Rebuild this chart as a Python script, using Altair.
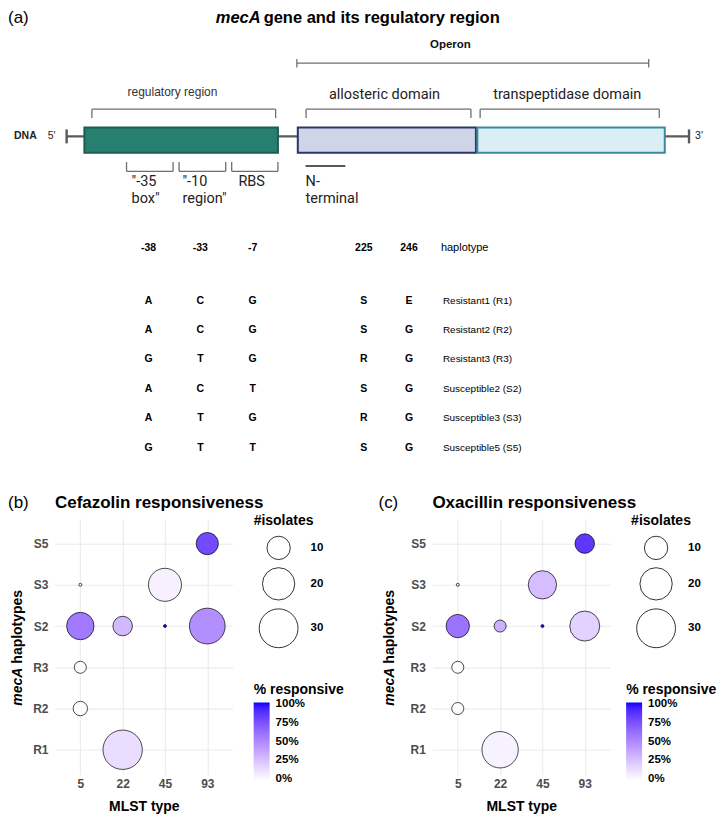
import altair as alt
import pandas as pd

# ---------------- data: panel (a) haplotype table ----------------
snp_positions = ["-38", "-33", "-7", "225", "246"]
haplotype_labels = ["Resistant1 (R1)", "Resistant2 (R2)", "Resistant3 (R3)",
                    "Susceptible2 (S2)", "Susceptible3 (S3)", "Susceptible5 (S5)"]
haplotype_alleles = [
    ["A", "C", "G", "S", "E"],
    ["A", "C", "G", "S", "G"],
    ["G", "T", "G", "R", "G"],
    ["A", "C", "T", "S", "G"],
    ["A", "T", "G", "R", "G"],
    ["G", "T", "T", "S", "G"],
]

# ---------------- data: panels (b) and (c) ----------------
mlst_types = ["5", "22", "45", "93"]
haplotype_codes = ["S5", "S3", "S2", "R3", "R2", "R1"]
bubble_haplotype = ["S5", "S3", "S3", "S2", "S2", "S2", "S2", "R3", "R2", "R1"]
bubble_mlst = ["93", "5", "45", "5", "22", "45", "93", "5", "5", "22"]
cefazolin_isolates = [9, 1, 21, 14, 7, 1, 25, 3, 4, 31]
cefazolin_pct = [78, 0, 5, 57, 29, 100, 48, 0, 0, 13]
oxacillin_isolates = [7, 1, 15, 10, 3, 1, 17, 3, 3, 26]
oxacillin_pct = [86, 0, 27, 60, 33, 100, 18, 0, 0, 4]
size_breaks = [10, 20, 30]
pct_breaks = [0, 25, 50, 75, 100]

# ---------------- panel (a) schematic layout (schematic units) ----------------
gene_parts = ["regulatory region", "allosteric domain", "transpeptidase domain"]
part_start = [84.5, 298.2, 478.0]
part_end = [278.3, 476.6, 665.7]
part_top, part_bottom = 126.0, 151.5
part_fill = ["#27806f", "#cfd4e8", "#d9eff5"]
part_stroke = ["#1d5c52", "#2a356b", "#3d8a9c"]
dna_y, dna_left, dna_right = 135.0, 66.7, 690.0
top_brackets = [(92.0, 276.0), (306.5, 471.6), (480.8, 660.2)]
top_bracket_y = (107.7, 116.7)
bottom_brackets = [(126.7, 173.3), (179.3, 226.0), (232.0, 278.3)]
bottom_bracket_y = (170.0, 160.7)
operon_span = (297.3, 649.6)
operon_y = 61.7
nterm_span = (306.0, 345.8)
nterm_y = 164.7
col_x = [148.7, 200.6, 253.0, 364.3, 409.6]
label_x = 443.5
header_y = 247.0
row_y = [299.6, 328.9, 358.0, 387.8, 417.3, 446.6]

F = "Liberation Sans"
XA = alt.Scale(domain=[55, 710], nice=False, zero=False)
YA = alt.Scale(domain=[8, 458], nice=False, zero=False, reverse=True)


def rule_layer(rows, **mark):
    df = pd.DataFrame(rows, columns=["x1", "x2", "y1", "y2"])
    return alt.Chart(df).mark_rule(**mark).encode(
        x=alt.X("x1:Q", scale=XA, axis=None), x2="x2:Q",
        y=alt.Y("y1:Q", scale=YA, axis=None), y2="y2:Q")


def text_layer(rows, **mark):
    df = pd.DataFrame(rows, columns=["label", "x", "y"])
    return alt.Chart(df).mark_text(**mark).encode(
        x=alt.X("x:Q", scale=XA, axis=None),
        y=alt.Y("y:Q", scale=YA, axis=None),
        text="label:N")


# rules
backbone = rule_layer([(dna_left, dna_right, dna_y, dna_y),
                       (dna_left, dna_left, dna_y - 7, dna_y + 7),
                       (dna_right, dna_right, dna_y - 7, dna_y + 7)],
                      color="#5a5a5a", strokeWidth=2.4)
bracket_rows = [(operon_span[0], operon_span[1], operon_y, operon_y),
                (operon_span[0], operon_span[0], operon_y - 4.2, operon_y + 4.3),
                (operon_span[1], operon_span[1], operon_y - 4.2, operon_y + 4.3)]
for a, b in top_brackets:
    y0, y1 = top_bracket_y
    bracket_rows += [(a, b, y0, y0), (a, a, y0, y1), (b, b, y0, y1)]
for a, b in bottom_brackets:
    y0, y1 = bottom_bracket_y
    bracket_rows += [(a, b, y0, y0), (a, a, y0, y1), (b, b, y0, y1)]
brackets = rule_layer(bracket_rows, color="#6e6e6e", strokeWidth=1.3)
nterm = rule_layer([(nterm_span[0], nterm_span[1], nterm_y, nterm_y)],
                   color="#222222", strokeWidth=1.5)

rect_df = pd.DataFrame({"part": gene_parts, "x1": part_start, "x2": part_end,
                        "y1": [part_top] * 3, "y2": [part_bottom] * 3})
rects = alt.Chart(rect_df).mark_rect(strokeWidth=2).encode(
    x=alt.X("x1:Q", scale=XA, axis=None), x2="x2:Q",
    y=alt.Y("y1:Q", scale=YA, axis=None), y2="y2:Q",
    fill=alt.Fill("part:N", scale=alt.Scale(domain=gene_parts, range=part_fill), legend=None),
    stroke=alt.Stroke("part:N", scale=alt.Scale(domain=gene_parts, range=part_stroke), legend=None),
)

# texts
t_tag = text_layer([("(a)", 8, 21.6)], font=F, fontSize=17, align="left",
                   baseline="alphabetic", color="black")
t_title_it = text_layer([("mecA", 261, 21.6)], font=F, fontSize=16.5, fontWeight="bold",
                        fontStyle="italic", align="right", baseline="alphabetic", color="black")
t_title = text_layer([("gene and its regulatory region", 264, 21.6)], font=F, fontSize=16.5,
                     fontWeight="bold", align="left", baseline="alphabetic", color="black")
t_operon = text_layer([("Operon", 451, 43.2)], font=F, fontSize=11.5, fontWeight="bold",
                      align="center", baseline="middle", color="#111111")
t_reg = text_layer([("regulatory region", 172.7, 90.6)], font=F, fontSize=12,
                   align="center", baseline="middle", color="#333333")
t_rob_c = text_layer([("allosteric domain", 385, 94), ("transpeptidase domain", 568, 94),
                      ("RBS", 252, 180.7)],
                     font="Roboto", fontSize=14.5, align="center", baseline="middle", color="#222222")
t_rob_l = text_layer([('"-35', 131.7, 180.7), ('box"', 131.7, 197.3), ('"-10', 182.7, 180.7),
                      ('region"', 182.7, 197.3), ("N-", 306, 180.7), ("terminal", 306, 197.3)],
                     font="Roboto", fontSize=14.5, align="left", baseline="middle", color="#222222")
t_dna = text_layer([("DNA", 25.4, 134.5)], font=F, fontSize=10.5, fontWeight="bold",
                   align="center", baseline="middle", color="#222222")
t_ends = text_layer([("5'", 51.7, 134.5), ("3'", 700, 134.5)], font=F, fontSize=10.5,
                    align="center", baseline="middle", color="#222222")

header_rows = [(p, col_x[j], header_y) for j, p in enumerate(snp_positions)]
t_header = text_layer(header_rows, font=F, fontSize=10.5, fontWeight="bold",
                      align="center", baseline="middle", color="black")
t_header_lab = text_layer([("haplotype", label_x - 2, header_y)], font=F, fontSize=11,
                          align="left", baseline="middle", color="black")
allele_rows = []
for i, alle in enumerate(haplotype_alleles):
    for j, a in enumerate(alle):
        allele_rows.append((a, col_x[j], row_y[i]))
t_alleles = text_layer(allele_rows, font=F, fontSize=10.5, fontWeight="bold",
                       align="center", baseline="middle", color="black")
t_hap = text_layer([(lab, label_x, row_y[i]) for i, lab in enumerate(haplotype_labels)],
                   font=F, fontSize=10, align="left", baseline="middle", color="black")

panel_a = alt.layer(backbone, rects, brackets, nterm, t_tag, t_title_it, t_title, t_operon,
                    t_reg, t_rob_c, t_rob_l, t_dna, t_ends, t_header, t_header_lab,
                    t_alleles, t_hap).properties(width=655, height=450)


def label_layer(text, x, y, **mark):
    return alt.Chart(pd.DataFrame({"t": [text]})).mark_text(**mark).encode(
        x=alt.value(x), y=alt.value(y), text="t:N")


def bubble_panel(isolates, pct, tag, title, tag_x, ytitle_x, color_legend_x):
    df = pd.DataFrame({"haplotype": bubble_haplotype, "mlst": bubble_mlst,
                       "isolates": isolates, "pct": pct})
    common_axis = dict(labelFont=F, labelFontSize=12, labelFontWeight="bold",
                       labelColor="#4d4d4d", ticks=False, domain=False, grid=True,
                       gridColor="#ebebeb", gridWidth=1.1)
    points = alt.Chart(df).mark_circle(opacity=1, stroke="black", strokeWidth=0.7).encode(
        x=alt.X("mlst:N", sort=mlst_types, scale=alt.Scale(type="point", padding=0.6),
                axis=alt.Axis(title="MLST type", titleFont=F, titleFontSize=14,
                              titleFontWeight="bold", titleColor="black", titlePadding=10,
                              labelPadding=4, labelAngle=0, **common_axis)),
        y=alt.Y("haplotype:N", sort=haplotype_codes, scale=alt.Scale(type="point", padding=0.6),
                axis=alt.Axis(title=None, labelPadding=7, **common_axis)),
        size=alt.Size("isolates:Q",
                      scale=alt.Scale(type="pow", exponent=0.85, domain=[1, 30],
                                      range=[9, 1510], zero=False),
                      legend=alt.Legend(title="#isolates", orient="none", legendX=199,
                                        legendY=-5, values=size_breaks, direction="vertical",
                                        titleFont=F, titleFontSize=14, titleFontWeight="bold",
                                        titleColor="black", titlePadding=7.6,
                                        labelFont=F, labelFontSize=11.5, labelFontWeight="bold",
                                        labelColor="black", labelOffset=12, symbolOffset=5,
                                        rowPadding=4.5, symbolType="circle",
                                        symbolFillColor="white", symbolStrokeColor="black",
                                        symbolStrokeWidth=0.8, padding=0)),
        color=alt.Color("pct:Q",
                        scale=alt.Scale(domain=[-1.5, 101.5], range=["#ffffff", "#0000ff"],
                                        interpolate="lab", nice=False, zero=False),
                        legend=alt.Legend(title="% responsive", orient="none",
                                          legendX=color_legend_x, legendY=164,
                                          direction="vertical", values=pct_breaks,
                                          labelExpr="datum.value + '%'",
                                          gradientLength=78, gradientThickness=16,
                                          gradientStrokeWidth=0,
                                          titleFont=F, titleFontSize=14, titleFontWeight="bold",
                                          titleColor="black", titlePadding=6,
                                          labelFont=F, labelFontSize=11.5,
                                          labelFontWeight="bold", labelColor="black",
                                          labelOffset=6, padding=0)),
    )
    tag_l = label_layer(tag, tag_x, -10.5, font=F, fontSize=17, align="left",
                        baseline="alphabetic", color="black")
    title_l = label_layer(title, 0, -10.5, font=F, fontSize=17, fontWeight="bold",
                          align="left", baseline="alphabetic", color="black")
    yt1 = label_layer("mecA", ytitle_x, 149, font=F, fontSize=14, fontWeight="bold",
                      fontStyle="italic", angle=270, align="right", baseline="middle",
                      color="black")
    yt2 = label_layer("haplotypes", ytitle_x, 145, font=F, fontSize=14, fontWeight="bold",
                      angle=270, align="left", baseline="middle", color="black")
    return alt.layer(points, tag_l, title_l, yt1, yt2).properties(width=178, height=256)


panel_b = bubble_panel(cefazolin_isolates, cefazolin_pct, "(b)", "Cefazolin responsiveness",
                       -47, -37, 199)
panel_c = bubble_panel(oxacillin_isolates, oxacillin_pct, "(c)", "Oxacillin responsiveness",
                       -54, -42.7, 194)

bottom = alt.hconcat(panel_b, panel_c, spacing=200, bounds="flush").resolve_scale(
    color="independent", size="independent", x="independent", y="independent")

chart = alt.vconcat(panel_a, bottom, spacing=60, bounds="flush").properties(
    padding=0, background="white").configure_view(stroke=None)

chart.save("out.html", embed_options={"renderer": "svg", "actions": False})
